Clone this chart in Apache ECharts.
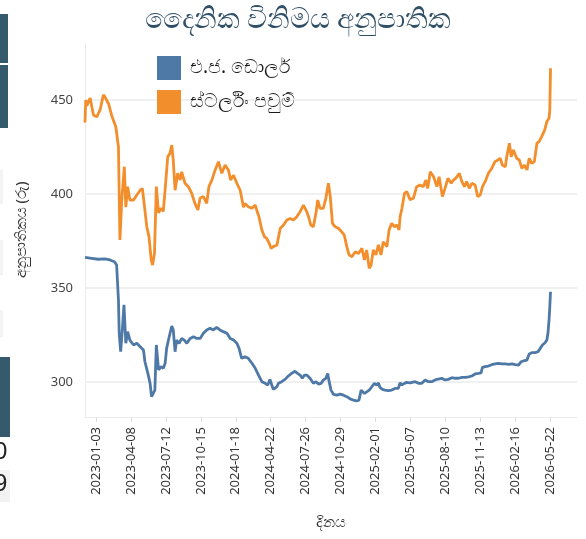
<!DOCTYPE html>
<html>
<head>
<meta charset="utf-8">
<script src="https://cdn.jsdelivr.net/npm/echarts@6/dist/echarts.min.js"></script>
<style>
  html, body { margin: 0; padding: 0; background: #fff; }
  #chart { width: 586px; height: 539px; }
</style>
</head>
<body>
<div id="chart"></div>
<script>
// ---- data ----
const usdDates = ['2022-12-04','2022-12-22','2023-01-09','2023-01-27','2023-02-10','2023-02-22','2023-02-28','2023-03-05','2023-03-07','2023-03-11',
  '2023-03-16','2023-03-20','2023-03-25','2023-03-30','2023-04-05','2023-04-15','2023-04-24','2023-05-03','2023-05-12','2023-05-16',
  '2023-05-24','2023-05-30','2023-06-03','2023-06-08','2023-06-12','2023-06-16','2023-06-22','2023-06-29','2023-07-05','2023-07-10',
  '2023-07-14','2023-07-21','2023-07-28','2023-08-01','2023-08-06','2023-08-10','2023-08-17','2023-08-24','2023-08-31','2023-09-07',
  '2023-09-16','2023-09-25','2023-10-04','2023-10-13','2023-10-22','2023-10-31','2023-11-09','2023-11-18','2023-11-27','2023-12-06',
  '2023-12-15','2023-12-25','2024-01-03','2024-01-12','2024-01-21','2024-01-27','2024-02-03','2024-02-12','2024-02-21','2024-03-02',
  '2024-03-11','2024-03-20','2024-03-29','2024-04-07','2024-04-14','2024-04-20','2024-04-25','2024-04-29','2024-05-09','2024-05-13',
  '2024-05-22','2024-05-31','2024-06-09','2024-06-18','2024-06-27','2024-07-04','2024-07-11','2024-07-17','2024-07-23','2024-07-29',
  '2024-08-07','2024-08-16','2024-08-23','2024-08-30','2024-09-06','2024-09-12','2024-09-19','2024-09-24','2024-09-28','2024-10-03',
  '2024-10-10','2024-10-19','2024-10-28','2024-11-06','2024-11-15','2024-11-24','2024-12-03','2024-12-12','2024-12-18','2024-12-24',
  '2024-12-27','2025-01-02','2025-01-08','2025-01-15','2025-01-22','2025-01-29','2025-02-04','2025-02-09','2025-02-13','2025-02-20',
  '2025-02-27','2025-03-08','2025-03-17','2025-03-26','2025-04-04','2025-04-09','2025-04-13','2025-04-21','2025-04-27','2025-05-06',
  '2025-05-11','2025-05-20','2025-05-29','2025-06-07','2025-06-16','2025-06-25','2025-07-04','2025-07-13','2025-07-22','2025-07-31',
  '2025-08-09','2025-08-18','2025-08-28','2025-09-06','2025-09-15','2025-09-24','2025-10-03','2025-10-12','2025-10-21','2025-10-30',
  '2025-11-08','2025-11-15','2025-11-19','2025-11-26','2025-12-05','2025-12-14','2025-12-23','2026-01-01','2026-01-11','2026-01-20',
  '2026-01-29','2026-02-07','2026-02-16','2026-02-25','2026-03-04','2026-03-10','2026-03-20','2026-03-26','2026-04-02','2026-04-11',
  '2026-04-19','2026-04-25','2026-05-01','2026-05-08','2026-05-13','2026-05-16','2026-05-19','2026-05-21','2026-05-23'];
const usdRates = [366.3,365.8,365.3,365.5,364.9,364.0,362.2,343.6,325.9,316.1,
  329.4,341.0,320.6,326.8,322.3,319.7,320.6,318.8,317.0,310.8,
  304.6,299.3,292.2,291.3,295.7,319.7,306.4,308.2,307.3,310.0,
  317.9,324.1,329.8,327.7,316.1,322.3,320.6,323.2,322.3,320.6,
  323.2,324.1,323.2,323.2,325.9,327.7,328.6,327.7,329.1,327.7,
  326.8,325.9,323.2,322.3,320.6,317.9,312.6,313.5,312.6,310.0,
  307.3,303.7,300.2,299.3,298.4,301.4,298.4,296.1,297.5,299.3,
  300.2,301.4,303.2,304.6,305.7,304.6,303.7,302.0,303.7,303.7,
  302.0,299.3,300.2,298.9,299.3,301.0,302.0,304.6,300.2,295.7,
  293.4,293.0,293.6,293.0,292.2,291.0,290.4,290.0,290.4,295.7,
  296.1,293.9,294.8,295.7,297.5,299.3,298.4,299.5,297.2,296.1,
  295.7,295.4,295.7,296.6,296.6,299.6,298.4,299.3,299.8,299.6,
  298.9,300.2,299.3,299.3,301.1,300.2,300.2,301.1,301.6,302.0,
  301.1,301.4,302.3,302.0,302.0,302.5,302.5,302.8,303.2,304.3,
  304.6,304.9,307.8,308.2,308.5,309.2,309.6,309.9,309.6,309.6,
  309.4,309.6,309.2,309.0,310.8,311.2,311.7,314.9,315.6,315.6,
  316.1,317.9,319.7,320.9,322.3,325.9,333.0,340.0,348.0];

const gbpDates = ['2022-12-04','2022-12-06','2022-12-09','2022-12-18','2022-12-27','2023-01-05','2023-01-14','2023-01-23','2023-01-29','2023-02-06',
  '2023-02-15','2023-02-26','2023-03-05','2023-03-09','2023-03-14','2023-03-21','2023-03-25','2023-03-30','2023-04-05','2023-04-15',
  '2023-04-24','2023-05-03','2023-05-09','2023-05-15','2023-05-21','2023-05-27','2023-06-02','2023-06-06','2023-06-11','2023-06-16',
  '2023-06-22','2023-06-29','2023-07-05','2023-07-12','2023-07-17','2023-07-23','2023-07-28','2023-08-01','2023-08-06','2023-08-13',
  '2023-08-20','2023-08-24','2023-09-02','2023-09-11','2023-09-20','2023-09-29','2023-10-07','2023-10-13','2023-10-22','2023-10-31',
  '2023-11-06','2023-11-14','2023-11-23','2023-12-02','2023-12-11','2023-12-20','2023-12-29','2024-01-04','2024-01-12','2024-01-21',
  '2024-01-30','2024-02-08','2024-02-12','2024-02-21','2024-03-02','2024-03-11','2024-03-15','2024-03-21','2024-03-29','2024-04-05',
  '2024-04-11','2024-04-18','2024-04-23','2024-04-29','2024-05-09','2024-05-18','2024-05-27','2024-06-05','2024-06-14','2024-06-23',
  '2024-07-02','2024-07-11','2024-07-20','2024-07-29','2024-08-03','2024-08-09','2024-08-16','2024-08-23','2024-08-28','2024-09-03',
  '2024-09-12','2024-09-19','2024-09-26','2024-10-01','2024-10-07','2024-10-14','2024-10-23','2024-11-01','2024-11-08','2024-11-15',
  '2024-11-21','2024-11-29','2024-12-08','2024-12-17','2024-12-26','2025-01-02','2025-01-08','2025-01-15','2025-01-20','2025-01-26',
  '2025-02-02','2025-02-09','2025-02-16','2025-02-22','2025-03-04','2025-03-10','2025-03-17','2025-03-24','2025-03-31','2025-04-06',
  '2025-04-09','2025-04-14','2025-04-21','2025-04-27','2025-05-06','2025-05-15','2025-05-24','2025-06-02','2025-06-11','2025-06-18',
  '2025-06-23','2025-06-30','2025-07-09','2025-07-18','2025-07-24','2025-08-02','2025-08-09','2025-08-17','2025-08-26','2025-09-01',
  '2025-09-07','2025-09-17','2025-09-24','2025-10-01','2025-10-07','2025-10-14','2025-10-21','2025-10-30','2025-11-06','2025-11-13',
  '2025-11-19','2025-11-28','2025-12-05','2025-12-14','2025-12-23','2025-12-31','2026-01-06','2026-01-12','2026-01-20','2026-01-24',
  '2026-01-31','2026-02-05','2026-02-11','2026-02-20','2026-02-27','2026-03-06','2026-03-13','2026-03-20','2026-03-26','2026-04-02',
  '2026-04-09','2026-04-16','2026-04-22','2026-04-29','2026-05-07','2026-05-13','2026-05-19','2026-05-21','2026-05-23'];
const gbpRates = [438.0,450.0,447.0,451.0,442.0,441.0,444.7,452.7,451.0,448.0,
  441.5,435.6,425.0,375.5,396.8,414.5,393.0,403.9,396.8,396.8,
  399.5,402.0,402.9,393.0,382.6,377.3,365.0,362.2,368.6,403.9,
  390.0,392.5,390.7,407.4,419.8,421.6,426.0,418.0,402.0,411.0,
  407.4,411.8,405.7,403.9,400.4,395.0,391.5,397.9,398.6,395.0,
  403.9,407.4,412.8,417.2,411.0,415.4,412.8,407.4,410.0,405.7,
  402.0,393.0,395.0,393.2,392.4,394.1,391.5,387.9,380.9,377.3,
  376.4,373.8,371.1,372.0,372.9,381.8,383.5,386.2,387.0,386.2,
  387.9,390.6,394.1,390.6,387.9,383.5,382.6,389.7,396.8,392.4,
  392.4,397.7,405.7,398.6,384.4,382.6,381.8,379.9,378.2,372.0,
  367.6,366.6,369.3,368.4,371.1,364.9,370.2,360.5,362.2,370.2,
  367.6,372.9,367.6,374.6,372.0,380.9,384.4,382.6,383.5,380.9,
  387.9,392.4,400.4,401.3,397.0,397.7,403.9,404.8,403.9,407.4,
  403.0,411.8,409.2,403.9,409.2,398.6,403.0,408.3,405.7,407.4,
  408.3,411.0,406.6,403.9,406.6,403.0,405.7,404.8,398.6,399.5,
  403.9,407.4,411.0,413.6,417.2,418.1,419.0,415.4,414.5,419.8,
  427.0,419.8,423.4,419.0,418.1,413.6,415.4,412.8,419.0,416.3,
  417.2,427.0,427.9,430.5,434.0,438.5,440.3,444.7,466.9];

const xTickDates = ['2023-01-03','2023-04-08','2023-07-12','2023-10-15','2024-01-18','2024-04-22','2024-07-26',
  '2024-10-29','2025-02-01','2025-05-07','2025-08-10','2025-11-13','2026-02-16','2026-05-22'];
const yTicks = [300, 350, 400, 450];

const seriesNames = ['එ.ජ. ඩොලර්', 'ස්ටර්ලිං පවුම්'];
const titleText = 'දෛනික විනිමය අනුපාතික';
const yName = 'අනුපාතිකය (රු)';
const xName = 'දිනය';

const toTime = s => Date.parse(s + 'T00:00:00Z');
const pair = (dates, vals) => dates.map((d, i) => [toTime(d), vals[i]]);
const xTicks = xTickDates.map(toTime);

const myChart = echarts.init(document.getElementById('chart'));
const grey = '#ebebeb';
let option = {
    animation: false,
    color: ['#4e79a7', '#f28e2b'],
    textStyle: { fontFamily: 'Noto Sans, DejaVu Sans, sans-serif' },
    title: {
        text: titleText,
        left: 293,
        textAlign: 'center',
        top: 1,
        textStyle: { fontSize: 28, fontWeight: 'normal', color: '#2f4f66' }
    },
    legend: {
        orient: 'vertical',
        left: 152,
        top: 51,
        itemWidth: 24,
        itemHeight: 24,
        itemGap: 10,
        icon: 'rect',
        textStyle: { fontSize: 19, color: '#1a1a1a', padding: [0, 0, 0, 4] },
        data: seriesNames
    },
    grid: { left: 85, right: 9, top: 43, bottom: 122 },
    xAxis: {
        type: 'value',
        min: toTime('2022-12-04'),
        max: toTime('2026-08-03'),
        name: xName,
        nameLocation: 'middle',
        nameGap: 98,
        nameTextStyle: { fontSize: 15, color: '#333' },
        axisLine: { show: true, lineStyle: { color: grey } },
        axisTick: { show: true, length: 5, lineStyle: { color: '#dcdcdc' }, customValues: xTicks },
        axisLabel: {
            rotate: 90,
            fontSize: 13,
            color: '#333',
            margin: 10,
            customValues: xTicks,
            formatter: v => echarts.time.format(v, '{yyyy}-{MM}-{dd}', true)
        },
        splitLine: { show: false }
    },
    yAxis: {
        type: 'value',
        min: 281.4,
        max: 480.3,
        name: yName,
        nameLocation: 'middle',
        nameGap: 56,
        nameTextStyle: { fontSize: 15, color: '#333' },
        axisLine: { show: true, lineStyle: { color: grey } },
        axisTick: { show: false, customValues: yTicks },
        axisLabel: { fontSize: 13, color: '#444', margin: 12, customValues: yTicks },
        splitLine: { show: true, lineStyle: { color: grey, width: 1.5 } }
    },
    graphic: [
        { type: 'rect', shape: { x: 0, y: 14, width: 8, height: 49 }, style: { fill: '#345a6b' } },
        { type: 'rect', shape: { x: 0, y: 65, width: 8, height: 63 }, style: { fill: '#345a6b' } },
        { type: 'rect', shape: { x: 0, y: 170, width: 3, height: 34 }, style: { fill: '#f3f3f3' } },
        { type: 'rect', shape: { x: 0, y: 240, width: 3, height: 35 }, style: { fill: '#f3f3f3' } },
        { type: 'rect', shape: { x: 0, y: 310, width: 3, height: 27 }, style: { fill: '#f3f3f3' } },
        { type: 'rect', shape: { x: 0, y: 357, width: 10, height: 80 }, style: { fill: '#345a6b' } },
        { type: 'rect', shape: { x: 0, y: 470, width: 10, height: 32 }, style: { fill: '#f2f2f2' } },
        { type: 'text', x: -6, y: 440, style: { text: '0', fontSize: 24, fill: '#222' } },
        { type: 'text', x: -6, y: 472, style: { text: '9', fontSize: 24, fill: '#222' } }
    ],
    series: [
        {
            name: seriesNames[0],
            type: 'line',
            showSymbol: false,
            lineStyle: { width: 2.8 },
            data: pair(usdDates, usdRates)
        },
        {
            name: seriesNames[1],
            type: 'line',
            showSymbol: false,
            lineStyle: { width: 2.8 },
            data: pair(gbpDates, gbpRates)
        }
    ]
};
myChart.setOption(option);
</script>
</body>
</html>
